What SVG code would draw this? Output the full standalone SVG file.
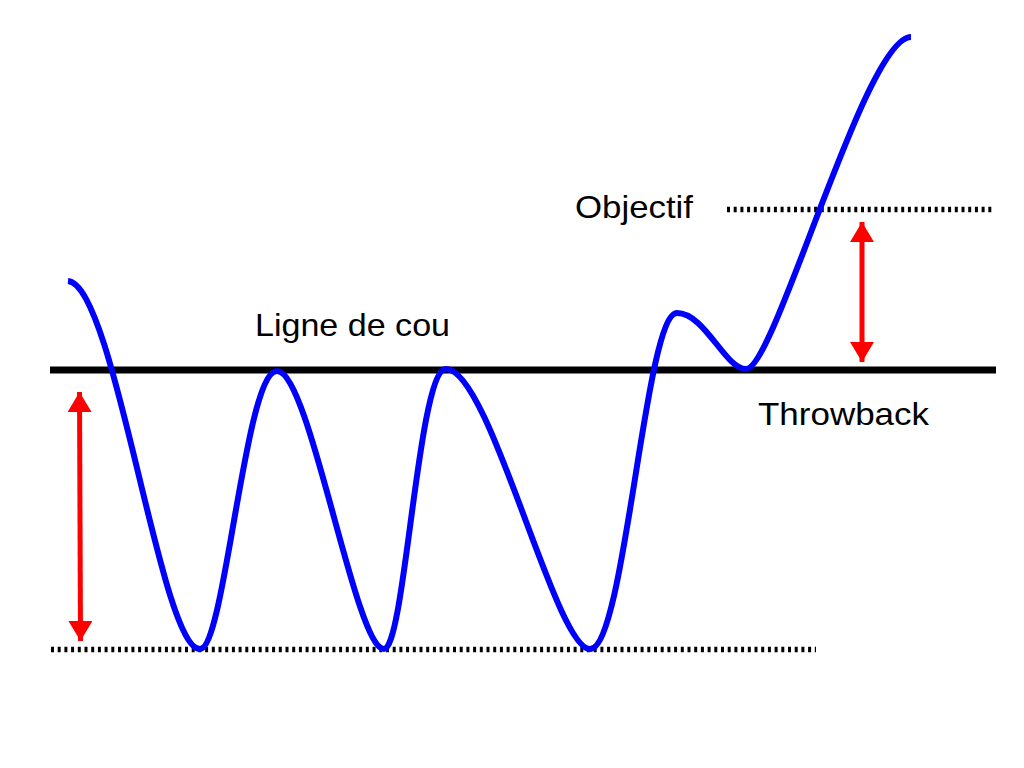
<svg xmlns="http://www.w3.org/2000/svg" width="1024" height="768" viewBox="0 0 1024 768">
<style>
.lbl{font-family:"Liberation Sans",Arial,sans-serif;font-size:32px;fill:#000}
.dot{stroke:#000;stroke-width:5.5;stroke-dasharray:3 3.7;fill:none}
.arr{stroke:#f00;stroke-width:5;fill:none}
</style>
<defs>
<marker id="ah" markerUnits="userSpaceOnUse" markerWidth="24" markerHeight="24" viewBox="0 0 20 24" refX="20" refY="12" orient="auto-start-reverse">
<path d="M0,0 L20,12 L0,24 Z" fill="#f00"/>
</marker>
</defs>
<rect width="1024" height="768" fill="#fff"/>
<g id="lines">
<line id="neckline" x1="50" y1="370" x2="996" y2="370" stroke="#000" stroke-width="7"/>
<line id="support" class="dot" x1="51" y1="649.5" x2="816" y2="649.5"/>
<line id="target" class="dot" x1="727" y1="209.5" x2="994" y2="209.5"/>
</g>
<g id="price">
<path d="M68,281 C115,285 160,649 200,649 C225,649 245,371 277,371 C310,371 355,649 384,649 C405,649 418,369 446,369 C490,369 555,649 590,649 C625,649 645,313 677,313 C705,313 725,369 746,369 C775,369 865,37 911,37" fill="none" stroke="#00f" stroke-width="6" stroke-linecap="butt"/>
</g>
<g id="arrows">
<line class="arr" x1="79.5" y1="392" x2="80.5" y2="641" marker-start="url(#ah)" marker-end="url(#ah)"/>
<line class="arr" x1="862" y1="222" x2="862" y2="362" marker-start="url(#ah)" marker-end="url(#ah)"/>
</g>
<g id="labels">
<text class="lbl" x="575" y="218" textLength="118" lengthAdjust="spacingAndGlyphs">Objectif</text>
<text class="lbl" x="255" y="336" textLength="195" lengthAdjust="spacingAndGlyphs">Ligne de cou</text>
<text class="lbl" x="758" y="425" textLength="171" lengthAdjust="spacingAndGlyphs">Throwback</text>
</g>
</svg>
